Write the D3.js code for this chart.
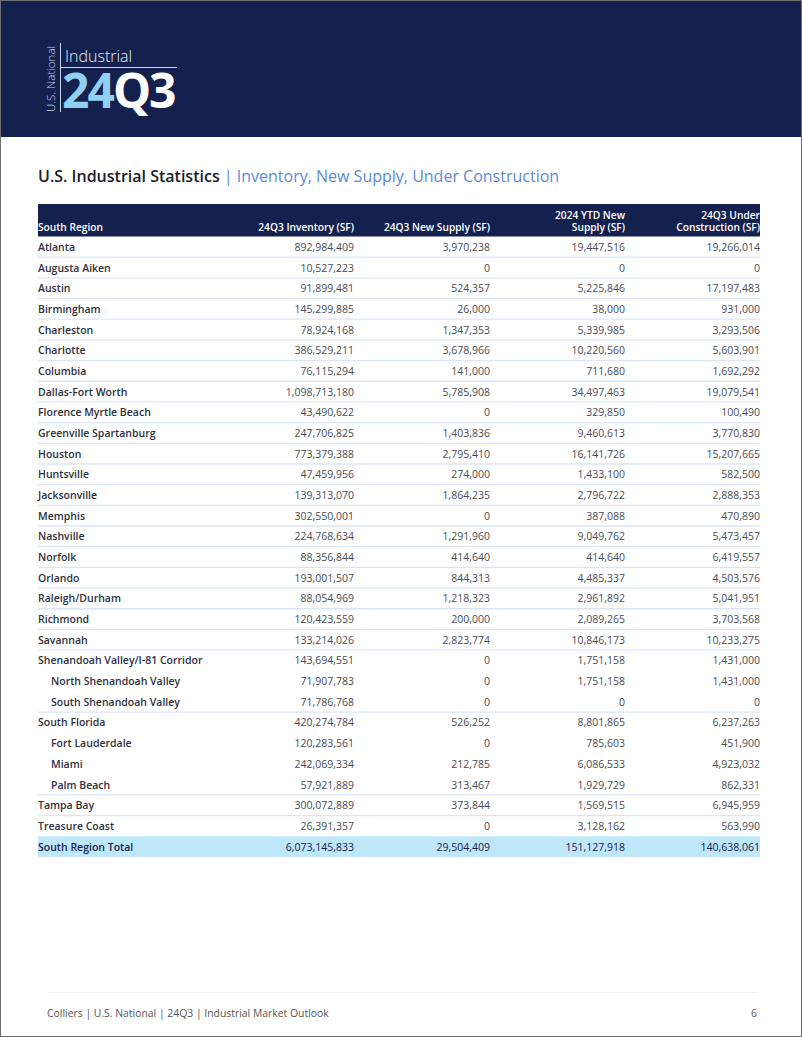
<!DOCTYPE html>
<html><head><meta charset="utf-8">
<script src="https://cdn.jsdelivr.net/npm/d3@7"></script>
<style>
html,body{margin:0;padding:0;background:#fff;}
svg{display:block;font-family:"Open Sans",sans-serif;}
</style></head>
<body><svg id="c" width="802" height="1037"></svg>
<script>
const markets = ["Atlanta","Augusta Aiken","Austin","Birmingham","Charleston","Charlotte","Columbia","Dallas-Fort Worth","Florence Myrtle Beach","Greenville Spartanburg","Houston","Huntsville","Jacksonville","Memphis","Nashville","Norfolk","Orlando","Raleigh/Durham","Richmond","Savannah","Shenandoah Valley/I-81 Corridor","North Shenandoah Valley","South Shenandoah Valley","South Florida","Fort Lauderdale","Miami","Palm Beach","Tampa Bay","Treasure Coast"];
const subMarket = [0,0,0,0,0,0,0,0,0,0,0,0,0,0,0,0,0,0,0,0,0,1,1,0,1,1,1,0,0];
const inventory = [892984409,10527223,91899481,145299885,78924168,386529211,76115294,1098713180,43490622,247706825,773379388,47459956,139313070,302550001,224768634,88356844,193001507,88054969,120423559,133214026,143694551,71907783,71786768,420274784,120283561,242069334,57921889,300072889,26391357];
const newSupply = [3970238,0,524357,26000,1347353,3678966,141000,5785908,0,1403836,2795410,274000,1864235,0,1291960,414640,844313,1218323,200000,2823774,0,0,0,526252,0,212785,313467,373844,0];
const ytdSupply = [19447516,0,5225846,38000,5339985,10220560,711680,34497463,329850,9460613,16141726,1433100,2796722,387088,9049762,414640,4485337,2961892,2089265,10846173,1751158,1751158,0,8801865,785603,6086533,1929729,1569515,3128162];
const underConstruction = [19266014,0,17197483,931000,3293506,5603901,1692292,19079541,100490,3770830,15207665,582500,2888353,470890,5473457,6419557,4503576,5041951,3703568,10233275,1431000,1431000,0,6237263,451900,4923032,862331,6945959,563990];
const totalLabel = "South Region Total";
const totals = [6073145833,29504409,151127918,140638061];
const headers = [["South Region"],["24Q3 Inventory (SF)"],["24Q3 New Supply (SF)"],["2024 YTD New","Supply (SF)"],["24Q3 Under","Construction (SF)"]];

const svg = d3.select("#c");
const W = 802, H = 1037;
const fmt = d3.format(",");

// banner
svg.append("rect").attr("x",0).attr("y",0).attr("width",W).attr("height",137).attr("fill","#14214f");
svg.append("line").attr("x1",60.5).attr("x2",60.5).attr("y1",43).attr("y2",112).attr("stroke","#c9d3e6").attr("stroke-width",1);
svg.append("line").attr("x1",61).attr("x2",177).attr("y1",67.5).attr("y2",67.5).attr("stroke","#c9d3e6").attr("stroke-width",1);
svg.append("text").attr("transform","translate(55,112) rotate(-90)").attr("font-size",11.5).attr("font-weight",300).attr("fill","#c9d3e6").text("U.S. National");
svg.append("text").attr("x",65).attr("y",62).attr("font-size",16).attr("font-weight",300).attr("fill","#e6ebf5").text("Industrial");
const big = svg.append("text").attr("x",62).attr("y",108).attr("font-size",48).attr("font-weight",700).attr("letter-spacing",-2);
big.append("tspan").attr("fill","#8fd0f3").text("24");
big.append("tspan").attr("fill","#ffffff").text("Q3");

// title
const t = svg.append("text").attr("x",38).attr("y",182).attr("font-size",16);
t.append("tspan").attr("fill","#1b1d2b").attr("font-weight",600).text("U.S. Industrial Statistics ");
t.append("tspan").attr("fill","#5b8bd0").text("| Inventory, New Supply, Under Construction");

// table
const x0 = 38, x1 = 760;
const colRight = [null,354,490,625,760];
const headTop = 204, headBot = 236.5;
const y = d3.scaleBand().domain(d3.range(markets.length+1)).range([headBot, headBot + 20.68*(markets.length+1)]).padding(0);

svg.append("rect").attr("x",x0).attr("y",headTop).attr("width",x1-x0).attr("height",headBot-headTop).attr("fill","#14214f");
headers.forEach((h,i)=>{
  const tx = svg.append("text").attr("x", i===0 ? x0 : colRight[i]).attr("text-anchor", i===0?"start":"end")
    .attr("font-size",10.2).attr("font-weight",600).attr("fill","#fff");
  h.forEach((line,j)=>{
    tx.append("tspan").attr("x", i===0 ? x0 : colRight[i]).attr("y", 231 - (h.length-1-j)*12).text(line);
  });
});

const rows = markets.map((m,i)=>({name:m, sub:subMarket[i], vals:[inventory[i],newSupply[i],ytdSupply[i],underConstruction[i]]}));

rows.forEach((r,i)=>{
  const top = y(i), bh = y.bandwidth();
  const cy = top + bh/2 + 4;
  svg.append("text").attr("x", x0 + (r.sub?13:0)).attr("y",cy).attr("font-size",10.5).attr("font-weight",600).attr("fill","#2e3040").text(r.name);
  r.vals.forEach((v,k)=>{
    svg.append("text").attr("x",colRight[k+1]).attr("y",cy).attr("text-anchor","end").attr("font-size",10.5).attr("fill","#4a4c55").text(fmt(v));
  });
  const next = rows[i+1];
  const noLine = next && next.sub;
  if(!noLine && i < rows.length-1){
    svg.append("line").attr("x1",x0).attr("x2",x1).attr("y1",top+bh).attr("y2",top+bh).attr("stroke","#dde5f5").attr("stroke-width",1.3);
  }
});

// total row
const ti = markets.length;
svg.append("rect").attr("x",x0).attr("y",y(ti)).attr("width",x1-x0).attr("height",y.bandwidth()).attr("fill","#bfe7fa");
const tcy = y(ti)+y.bandwidth()/2+4;
svg.append("text").attr("x",x0).attr("y",tcy).attr("font-size",10.5).attr("font-weight",600).attr("fill","#14214f").text(totalLabel);
totals.forEach((v,k)=>{
  svg.append("text").attr("x",colRight[k+1]).attr("y",tcy).attr("text-anchor","end").attr("font-size",10.5).attr("fill","#14214f").text(fmt(v));
});

// footer
svg.append("line").attr("x1",47).attr("x2",757).attr("y1",992.5).attr("y2",992.5).attr("stroke","#eef0f4").attr("stroke-width",1);
svg.append("text").attr("x",47).attr("y",1017).attr("font-size",10.4).attr("fill","#555").text("Colliers | U.S. National | 24Q3 | Industrial Market Outlook");
svg.append("text").attr("x",757).attr("y",1017).attr("text-anchor","end").attr("font-size",10.4).attr("fill","#555").text("6");

// page border
svg.append("rect").attr("x",0.5).attr("y",0.5).attr("width",W-1).attr("height",H-1).attr("fill","none").attr("stroke","#6e6e6e").attr("stroke-width",1);
</script></body></html>
